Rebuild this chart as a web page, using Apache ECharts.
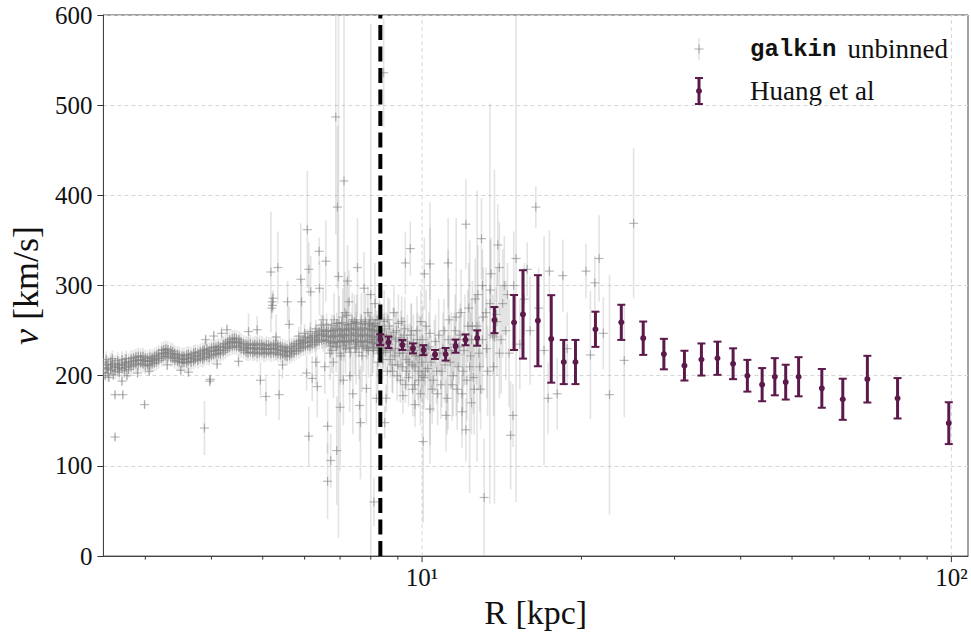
<!DOCTYPE html>
<html><head><meta charset="utf-8">
<script src="https://cdn.jsdelivr.net/npm/echarts@6/dist/echarts.min.js"></script>
<style>html,body{margin:0;padding:0;background:#fff}#c{width:971px;height:634px}</style>
</head><body><div id="c"></div>
<script>
// ---------------- data ----------------
const huangR = [8.34, 8.64, 9.18, 9.61, 10.06, 10.58, 11.08, 11.57, 12.08, 12.71, 13.70, 14.92, 15.51, 16.55, 17.54, 18.52, 19.49, 21.26, 23.79, 26.17, 28.63, 31.31, 33.71, 36.15, 38.69, 41.17, 43.90, 46.39, 48.64, 51.45, 56.92, 62.35, 69.39, 79.13, 98.88];
const huangV = [240.0, 237.0, 234.1, 230.3, 228.4, 223.6, 223.8, 232.8, 239.8, 241.8, 261.7, 259.0, 268.0, 261.0, 240.8, 215.2, 215.2, 251.5, 259.2, 241.6, 224.0, 211.2, 218.0, 219.4, 213.3, 200.0, 190.1, 198.9, 192.9, 198.9, 186.0, 173.9, 196.2, 175.0, 147.4];
const huangErr = [6.0, 6.4, 5.5, 5.5, 5.5, 5.0, 7.0, 7.3, 6.0, 8.5, 14.5, 30.5, 49.0, 50.5, 48.5, 24.5, 24.5, 19.5, 19.5, 18.5, 16.9, 16.5, 17.8, 18.4, 17.1, 17.6, 18.4, 20.6, 19.3, 21.7, 21.5, 22.8, 25.9, 22.4, 23.2];

// dense inner-Galaxy (tangent point) part of galkin: [R, v lower, v middle, v upper]
const galkinBand = [
 [2.50,204,209,215],[2.53,207,212,218],[2.55,203,208,213],[2.58,206,211,216],[2.60,209,213,219],[2.63,205,210,214],[2.66,207,212,217],[2.68,204,209,212],
 [2.71,208,213,218],[2.74,206,211,215],[2.76,209,214,219],[2.79,207,212,216],[2.82,210,214,219],[2.85,211,216,220],[2.88,213,217,221],[2.91,212,217,222],
 [2.94,214,218,221],[2.97,213,217,222],[3.00,211,216,220],[3.03,212,216,219],[3.06,211,216,221],[3.09,213,217,220],[3.12,214,218,222],[3.15,215,219,223],
 [3.18,217,221,225],[3.22,219,224,228],[3.25,221,225,229],[3.28,222,226,230],[3.31,221,225,229],[3.35,220,224,228],[3.38,219,223,227],[3.41,217,221,225],
 [3.45,216,220,224],[3.48,215,219,223],[3.52,214,218,222],[3.55,215,218,222],[3.59,214,219,223],[3.62,216,220,224],[3.66,215,219,223],[3.70,216,221,225],
 [3.73,218,222,226],[3.77,217,221,225],[3.81,219,223,227],[3.85,218,223,228],[3.88,220,225,229],[3.92,221,226,230],[3.96,220,224,228],[4.00,222,227,231],
 [4.04,223,228,232],[4.08,224,228,231],[4.12,225,229,233],[4.16,224,228,232],[4.21,226,231,235],[4.25,228,232,236],[4.29,230,234,238],[4.33,231,236,240],
 [4.38,232,237,241],[4.42,233,238,242],[4.46,232,237,241],[4.51,231,236,240],[4.55,229,234,238],[4.60,228,232,236],[4.65,226,231,235],[4.69,225,230,234],
 [4.74,226,231,236],[4.79,225,230,234],[4.83,226,231,235],[4.88,224,229,234],[4.93,225,230,236],[4.98,226,231,235],[5.03,224,229,233],[5.08,225,230,235],
 [5.13,226,230,234],[5.18,224,229,233],[5.24,225,230,235],[5.29,226,231,236],[5.34,224,229,234],[5.40,223,228,233],[5.45,224,228,232],[5.51,222,227,231],
 [5.56,221,226,230],[5.62,222,227,232],[5.67,224,228,233],[5.73,225,230,235],[5.79,227,232,236],[5.85,228,233,238],[5.90,230,235,239],[5.96,231,236,240],
 [6.02,232,237,242],[6.08,233,238,243],[6.14,232,237,242],[6.20,234,239,244],[6.27,235,240,245],[6.33,237,242,247],[6.39,238,244,249],[6.46,239,245,250],
 [6.52,240,246,251],[6.59,239,244,249],[6.65,238,244,250],[6.72,237,243,249],[6.79,236,243,250],[6.85,238,245,251],[6.92,237,244,252],[6.99,238,244,250],
 [7.06,239,246,252],[7.13,238,245,251],[7.20,237,243,250],[7.27,238,245,252],[7.35,239,245,251],[7.42,240,247,253],[7.50,238,245,252],[7.57,237,244,251],
 [7.65,238,244,250],[7.72,239,246,253],[7.80,238,245,252],[7.88,237,244,251],[7.96,238,245,252],[8.04,236,243,250],[8.12,237,244,251],[8.20,235,242,249],
 [8.28,236,243,250]
];
const galkinBandErr = 9;

// scattered galkin points: [R, v, error]
const galkinScatter = [
 [2.52,200,4],[2.56,198,5],[2.61,201,6],[2.63,179,4],[2.63,132,4],[2.72,179,4],[2.71,194,5],[2.77,200,5],[2.90,203,5],
 [2.99,168,4],[3.05,205,5],[3.30,212,6],[3.50,206,5],[3.62,204,5],[3.88,142,30],[3.97,194,6],[3.98,196,5],[3.90,240,6],
 [4.04,244,6],[4.18,247,7],[4.28,251,6],[4.10,213,6],[4.50,216,7],[4.70,249,20],[4.88,251,15],[4.95,195,20],[5.07,177,22],
 [5.18,315,67],[5.21,282,10],[5.22,278,8],[5.23,286,9],[5.20,275,12],[5.34,320,40],[5.37,179,28],[5.57,282,23],[5.61,257,20],
 [5.30,243,25],[5.45,212,15],[5.90,307,62],[5.92,282,25],[6.07,362,65],[6.11,318,30],[6.16,293,40],[6.11,133,33],[6.05,203,20],
 [6.20,197,25],[6.39,338,15],[6.40,297,30],[6.34,188,34],[6.58,327,45],[6.63,144,30],[6.63,83,42],[6.72,106,30],[6.50,262,35],
 [6.55,210,30],[6.87,487,130],[6.95,310,290],[6.92,387,90],[7.00,165,70],[6.90,117,60],[7.12,416,200],[7.15,270,45],[7.23,305,40],
 [7.28,282,35],[7.20,267,40],[7.30,200,40],[7.40,180,45],[7.55,320,55],[7.65,148,63],[7.62,167,40],[7.77,297,40],[7.85,186,40],
 [8.11,60,27],[8.20,175,40],[8.00,290,300],[8.15,280,45],[8.25,215,35],[7.00,225,35],[7.45,260,30],[7.90,270,30],[6.80,215,40],
 [7.10,195,50],[7.70,222,40],[8.05,240,40],[8.30,262,30],[7.50,235,45],[6.70,225,30],[6.30,215,25],
 [7.95,258,12],[8.10,228,12],[8.22,262,10],[7.85,230,12],[8.30,225,15],[8.05,255,10],
 [6.75,228,25],[6.82,262,30],[6.88,232,28],[6.97,258,30],[7.03,222,30],[7.08,265,32],[7.17,230,28],[7.25,256,30],[7.33,226,32],
 [7.38,262,30],[7.47,230,30],[7.53,258,32],[7.60,226,30],[7.68,262,30],[7.75,232,28],[7.82,260,32],[7.92,228,30],[7.99,262,30],
 [8.08,231,28],[8.16,258,30],[8.24,228,30],[8.32,255,28],
 [8.40,245,15],[8.45,228,20],[8.50,252,18],[8.55,236,12],[8.46,536,60],[8.50,148,18],[8.55,175,15],[8.62,262,25],[8.70,218,20],
 [8.75,242,15],[8.80,205,25],[8.85,270,30],[8.90,230,18],[8.95,250,22],[9.00,212,20],[9.05,238,16],[9.10,195,25],[9.15,260,28],
 [9.20,225,20],[9.25,245,20],[9.30,325,35],[9.35,205,22],[9.40,232,25],[9.45,215,20],[9.50,341,30],[9.55,250,30],[9.60,185,30],
 [9.65,228,20],[9.70,210,25],[9.80,240,30],[9.85,195,30],[9.90,222,22],[9.95,260,35],[9.20,178,20],[9.70,168,25],[10.00,200,30],
 [9.30,190,20],[10.05,127,90],[10.10,313,40],[10.15,205,30],[10.20,230,25],[10.35,324,40],[10.35,163,40],[10.35,247,145],
 [10.40,215,30],[10.50,195,35],[10.60,238,30],[10.70,180,35],[10.80,225,25],[10.90,205,40],[11.00,250,35],[11.10,156,40],
 [11.20,325,50],[11.20,240,100],[11.30,215,30],[11.40,190,40],[11.50,235,35],[11.60,265,110],[11.70,210,40],[11.80,245,35],
 [11.90,180,45],[12.00,228,40],[12.10,368,50],[12.10,140,35],[12.20,255,40],[12.30,210,140],[12.40,240,45],[12.50,198,40],
 [12.60,285,45],[12.70,255,150],[12.80,225,40],[12.95,352,45],[13.00,240,60],[13.10,65,65],[13.20,270,50],[13.30,205,50],
 [13.43,280,222],[13.50,313,40],[13.60,245,45],[13.70,243,185],[13.90,345,45],[14.00,225,50],[14.20,280,60],[14.40,250,55],
 [14.70,134,60],[14.85,156,35],[14.90,300,60],[15.05,330,270],[15.30,235,50],[15.60,285,40],[16.00,250,60],[16.40,387,23],
 [16.60,275,45],[17.00,228,127],[17.30,175,40],[17.40,316,45],[18.00,180,40],[18.45,311,40],[18.80,230,40],[20.40,316,30],
 [20.80,223,71],[21.20,303,30],[21.60,330,48],[22.00,247,40],[22.60,179,133],[24.10,217,63],[25.10,369,83],
 [13.00,300,40],[14.50,290,35],[15.80,318,30],[14.00,320,50],[13.80,268,30],[11.90,160,40],[12.40,170,35],[12.90,185,45],
 [8.36,232,25],[8.38,250,30],[8.42,218,22],[8.44,241,28],[8.48,260,35],[8.52,226,20],[8.57,245,25],[8.60,205,30],[8.65,235,22],
 [8.68,255,30],[8.72,228,25],[8.78,212,30],[8.82,248,28],[8.87,222,25],[8.92,240,30],[8.97,200,28],[9.02,258,32],[9.07,225,26],
 [9.12,242,30],[9.17,210,28],[9.22,235,30],[9.28,252,35],[9.33,218,28],[9.38,238,30],[9.43,198,32],[9.48,228,30],[9.53,245,35],
 [9.58,212,30],[9.63,236,32],[9.68,190,35],[9.74,222,30],[9.78,250,38],[9.83,205,32],[9.88,232,35],[9.93,180,35],[9.98,215,32],
 [10.03,240,38],[10.08,198,35],[10.13,225,36],[10.18,255,40],[10.25,208,35],[10.30,232,38],[10.45,185,38],[10.55,222,40],
 [10.65,205,36],[10.75,245,40],[10.85,190,38],[10.95,230,40],[11.05,212,42],[11.15,175,40],[11.25,262,45],[11.35,228,42],
 [11.45,200,45],[11.55,250,40],[11.65,185,45],[11.75,232,42],[11.85,270,48],[11.95,205,45],[12.05,240,50],[12.15,195,45],
 [12.25,275,50],[12.35,222,48],[12.45,255,50],[12.55,185,50],[12.65,240,50],[12.75,290,55],[12.85,210,50],[13.05,265,55],
 [13.25,230,55],[13.45,295,55],[13.65,210,55],[13.85,260,60],[14.10,240,60],[14.30,300,55],[14.60,225,60],
 [5.85,244,10],[6.00,247,10],[6.15,249,10],[6.30,252,10],[6.45,256,12],[6.60,257,12],[6.75,256,12],[6.90,258,12],[7.05,259,12],
 [7.20,257,12],[7.35,258,12],[7.50,259,12],[7.65,257,12],[7.80,258,12],[7.95,257,12],[8.10,256,12],[8.25,255,12],
 [6.70,233,12],[6.90,232,12],[7.10,233,12],[7.30,231,12],[7.50,232,12],[7.70,233,12],[7.90,231,12],[8.10,232,12],[8.28,230,12]
];

const xRange = [2.5, 107.5];
const yRange = [0, 600];
const yInterval = 100;
const xMajorTicks = [10, 100];
const xMajorLabels = ['10\u00B9', '10\u00B2'];
const xMinorTicks = [3, 4, 5, 6, 7, 8, 9, 20, 30, 40, 50, 60, 70, 80, 90];
const solarR = 8.34;

// ---------------- chart ----------------
const SERIF = "'Liberation Serif','DejaVu Serif',serif";
const MONO = "'Liberation Mono','DejaVu Sans Mono',monospace";
const PURPLE = '#5c1a4b';
const ERR_GRAY = 'rgba(128,128,128,0.22)';
const MARK_GRAY = 'rgba(128,128,128,0.55)';
const chart = echarts.init(document.getElementById('c'), null, {renderer: 'svg'});

const grayData = [];
galkinBand.forEach(r => { for (let k = 1; k < r.length; k++) grayData.push([r[0], r[k], galkinBandErr]); });
galkinScatter.forEach(r => grayData.push(r));

const huangData = huangR.map((r, i) => [r, huangV[i], huangErr[i]]);

function renderGray(params, api) {
  const x = api.value(0), v = api.value(1), e = api.value(2);
  const p = api.coord([x, v]);
  const t = api.coord([x, v + e]);
  const b = api.coord([x, v - e]);
  return {type: 'group', children: [
    {type: 'line', shape: {x1: p[0], y1: t[1], x2: p[0], y2: b[1]}, style: {stroke: ERR_GRAY, lineWidth: 1.6}},
    {type: 'line', shape: {x1: p[0] - 4.5, y1: p[1], x2: p[0] + 4.5, y2: p[1]}, style: {stroke: MARK_GRAY, lineWidth: 1.2}},
    {type: 'line', shape: {x1: p[0], y1: p[1] - 4.5, x2: p[0], y2: p[1] + 4.5}, style: {stroke: MARK_GRAY, lineWidth: 1.2}}
  ]};
}
function renderHuang(params, api) {
  const x = api.value(0), v = api.value(1), e = api.value(2);
  const p = api.coord([x, v]);
  const t = api.coord([x, v + e]);
  const b = api.coord([x, v - e]);
  return {type: 'group', children: [
    {type: 'line', shape: {x1: p[0], y1: t[1], x2: p[0], y2: b[1]}, style: {stroke: PURPLE, lineWidth: 3}},
    {type: 'line', shape: {x1: p[0] - 4, y1: t[1], x2: p[0] + 4, y2: t[1]}, style: {stroke: PURPLE, lineWidth: 2}},
    {type: 'line', shape: {x1: p[0] - 4, y1: b[1], x2: p[0] + 4, y2: b[1]}, style: {stroke: PURPLE, lineWidth: 2}},
    {type: 'circle', shape: {cx: p[0], cy: p[1], r: 3}, style: {fill: PURPLE}}
  ]};
}
function renderVLine(dash, color, width) {
  return function (params, api) {
    const x = api.value(0);
    const a = api.coord([x, yRange[0]]);
    const b = api.coord([x, yRange[1]]);
    return {type: 'line', shape: {x1: a[0], y1: a[1], x2: b[0], y2: b[1]},
      style: {stroke: color, lineWidth: width, lineDash: dash}};
  };
}
function renderTick(len) {
  return function (params, api) {
    const a = api.coord([api.value(0), yRange[0]]);
    return {type: 'line', shape: {x1: a[0], y1: a[1], x2: a[0], y2: a[1] + len},
      style: {stroke: '#333', lineWidth: 1}};
  };
}

const option = {
  animation: false,
  backgroundColor: '#ffffff',
  grid: {left: 102, right: 1, top: 15, bottom: 75, show: true, borderColor: '#444', borderWidth: 1, backgroundColor: 'transparent'},
  xAxis: {
    type: 'log', logBase: 10, min: xRange[0], max: xRange[1],
    name: 'R [kpc]', nameLocation: 'middle', nameGap: 33,
    nameTextStyle: {fontFamily: SERIF, fontSize: 34, color: '#111'},
    axisLine: {show: true, lineStyle: {color: '#444', width: 1}},
    axisTick: {show: false},
    splitLine: {show: false},
    axisLabel: {
      margin: 9, fontFamily: SERIF, fontSize: 25, color: '#111',
      formatter: function (val) {
        for (let i = 0; i < xMajorTicks.length; i++) {
          if (Math.abs(val - xMajorTicks[i]) < 1e-6 * xMajorTicks[i]) return xMajorLabels[i];
        }
        return '';
      }
    }
  },
  yAxis: {
    type: 'value', min: yRange[0], max: yRange[1], interval: yInterval,
    name: '{i|v} [km/s]', nameLocation: 'middle', nameGap: 52,
    nameTextStyle: {fontFamily: SERIF, fontSize: 36, color: '#111', rich: {i: {fontFamily: SERIF, fontSize: 36, fontStyle: 'italic', color: '#111'}}},
    axisLine: {show: true, lineStyle: {color: '#444', width: 1}},
    axisTick: {show: true, inside: false, length: 6, lineStyle: {color: '#333'}},
    axisLabel: {margin: 11, fontFamily: SERIF, fontSize: 25, color: '#111'},
    splitLine: {show: true, lineStyle: {color: '#d6d6d6', width: 1, type: [4, 3]}}
  },
  graphic: [
    {type: 'group', z: 100, children: [
      {type: 'line', shape: {x1: 699, y1: 38, x2: 699, y2: 60}, style: {stroke: ERR_GRAY, lineWidth: 1.6}},
      {type: 'line', shape: {x1: 694.5, y1: 49, x2: 703.5, y2: 49}, style: {stroke: MARK_GRAY, lineWidth: 1.2}},
      {type: 'line', shape: {x1: 699, y1: 44.5, x2: 699, y2: 53.5}, style: {stroke: MARK_GRAY, lineWidth: 1.2}},
      {type: 'line', shape: {x1: 699, y1: 78, x2: 699, y2: 104}, style: {stroke: PURPLE, lineWidth: 3}},
      {type: 'line', shape: {x1: 695, y1: 78, x2: 703, y2: 78}, style: {stroke: PURPLE, lineWidth: 2}},
      {type: 'line', shape: {x1: 695, y1: 104, x2: 703, y2: 104}, style: {stroke: PURPLE, lineWidth: 2}},
      {type: 'circle', shape: {cx: 699, cy: 91, r: 3}, style: {fill: PURPLE}},
      {type: 'text', x: 750, y: 49, style: {
        text: '{m|galkin}{s|\u00A0}unbinned', verticalAlign: 'middle', align: 'left',
        font: '27px ' + SERIF, fill: '#111',
        rich: {m: {fontFamily: MONO, fontWeight: 'bold', fontSize: 24, fill: '#111'}, s: {width: 11, fontSize: 27}}
      }},
      {type: 'text', x: 750, y: 91, style: {
        text: 'Huang et al', verticalAlign: 'middle', align: 'left',
        font: '27px ' + SERIF, fill: '#111'
      }}
    ]}
  ],
  series: [
    {name: 'xgrid', type: 'custom', z: 1, silent: true, clip: true,
     data: xMajorTicks.map(v => [v]), renderItem: renderVLine([4, 3], '#d6d6d6', 1)},
    {name: 'galkin unbinned', type: 'custom', z: 2, silent: true, clip: true,
     data: grayData, renderItem: renderGray},
    {name: 'R0', type: 'custom', z: 3, silent: true, clip: true,
     data: [[solarR]], renderItem: renderVLine([15, 6.5], '#000', 4)},
    {name: 'Huang et al', type: 'custom', z: 4, silent: true, clip: true,
     data: huangData, renderItem: renderHuang},
    {name: 'majorTicks', type: 'custom', z: 5, silent: true, clip: false,
     data: xMajorTicks.map(v => [v]), renderItem: renderTick(6)},
    {name: 'minorTicks', type: 'custom', z: 5, silent: true, clip: false,
     data: xMinorTicks.map(v => [v]), renderItem: renderTick(3.5)}
  ]
};
chart.setOption(option);
</script>
</body></html>
